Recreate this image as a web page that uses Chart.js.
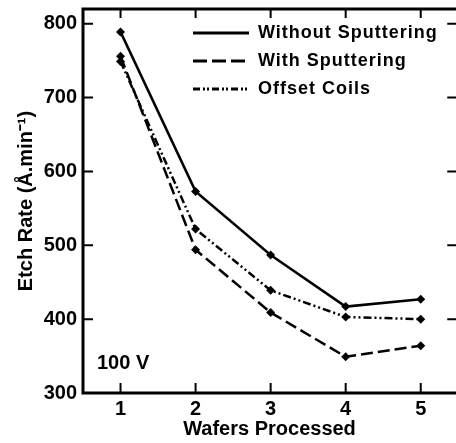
<!DOCTYPE html>
<html>
<head>
<meta charset="utf-8">
<script src="https://cdn.jsdelivr.net/npm/chart.js@4"></script>
<style>
  html, body { margin: 0; padding: 0; background: #fff; }
  #wrap { width: 456px; height: 443px; }
</style>
</head>
<body>
<div id="wrap"><canvas id="c" width="456" height="443"></canvas></div>
<script>
// ---- data ----
const categories = [1, 2, 3, 4, 5];
const withoutSputtering = [789, 573, 487, 417, 427];
const withSputtering = [756, 494, 409, 349, 364];
const offsetCoils = [749, 522, 439, 403, 400];
const seriesLabels = ['Without Sputtering', 'With Sputtering', 'Offset Coils'];
const xTicks = [1, 2, 3, 4, 5];
const yTicks = [300, 400, 500, 600, 700, 800];
const xTitle = 'Wafers Processed';
const yTitle = 'Etch Rate (Å.min⁻¹)';
const annotationText = '100 V';

// axis ranges: the frame's right edge (x = 5.5) lies just beyond the canvas
const xMin = 0.5, xMax = 5.47, xFrameRight = 5.5;
const yMin = 300, yMax = 820;

const FONT = '"Liberation Sans", Arial, sans-serif';
const dashes = [[], [12, 5], [8, 3, 2, 3, 2, 3]];
const legendDashes = [[], [14, 5], [7, 3, 2, 2, 2, 3]];

function pts(vals) { return categories.map((c, i) => ({ x: c, y: vals[i] })); }

function ds(label, vals, dash) {
  return {
    label: label,
    data: pts(vals),
    borderColor: '#000',
    backgroundColor: '#000',
    borderWidth: 2.5,
    borderDash: dash,
    pointStyle: 'rectRot',
    pointRadius: 4.5,
    pointHoverRadius: 4.5,
    pointBorderWidth: 0,
    pointBackgroundColor: '#000',
    tension: 0,
    fill: false,
    clip: false
  };
}

function zeroPad(s) { s.paddingTop = 0; s.paddingBottom = 0; s.paddingLeft = 0; s.paddingRight = 0; }

const framePlugin = {
  id: 'frame',
  afterDatasetsDraw(chart) {
    const { ctx, chartArea: a, scales } = chart;
    const x = scales.x, y = scales.y;
    const R = x.getPixelForValue(xFrameRight);
    ctx.save();
    ctx.strokeStyle = '#000';
    ctx.lineWidth = 2;
    ctx.setLineDash([]);
    ctx.beginPath();
    xTicks.forEach(v => {
      const px = x.getPixelForValue(v);
      ctx.moveTo(px, a.bottom); ctx.lineTo(px, a.bottom - 10);
      ctx.moveTo(px, a.top); ctx.lineTo(px, a.top + 9);
    });
    yTicks.forEach(v => {
      if (v === y.min) return;
      const py = y.getPixelForValue(v);
      ctx.moveTo(a.left, py); ctx.lineTo(a.left + 10, py);
      ctx.moveTo(R, py); ctx.lineTo(R - 11, py);
    });
    ctx.stroke();
    ctx.lineWidth = 3;
    ctx.strokeRect(a.left, a.top, R - a.left, a.bottom - a.top);

    // annotation
    ctx.fillStyle = '#000';
    ctx.font = 'bold 20px ' + FONT;
    ctx.textAlign = 'left';
    ctx.textBaseline = 'middle';
    ctx.fillText(annotationText, a.left + 14, 363);

    // legend
    ctx.font = 'bold 18px ' + FONT;
    try { ctx.letterSpacing = '1px'; } catch (e) {}
    chart.data.datasets.forEach((d, i) => {
      const ly = 33 + i * 28;
      ctx.lineWidth = 3;
      ctx.setLineDash(legendDashes[i]);
      ctx.beginPath();
      ctx.moveTo(193, ly); ctx.lineTo(249, ly);
      ctx.stroke();
      ctx.setLineDash([]);
      ctx.fillText(d.label, 258, ly);
    });
    ctx.restore();
  }
};

new Chart(document.getElementById('c'), {
  type: 'line',
  data: {
    datasets: [
      ds(seriesLabels[0], withoutSputtering, dashes[0]),
      ds(seriesLabels[1], withSputtering, dashes[1]),
      ds(seriesLabels[2], offsetCoils, dashes[2])
    ]
  },
  options: {
    responsive: false,
    animation: false,
    events: [],
    layout: { autoPadding: false, padding: { top: 9, right: 0, left: 0, bottom: 0 } },
    plugins: { legend: { display: false }, tooltip: { enabled: false } },
    scales: {
      x: {
        type: 'linear',
        min: xMin,
        max: xMax,
        afterBuildTicks(s) { s.ticks = xTicks.map(v => ({ value: v })); },
        afterFit(s) { s.height = 50; zeroPad(s); },
        grid: { display: false, drawTicks: false },
        border: { display: false },
        ticks: { color: '#000', font: { family: FONT, size: 20, weight: 'bold' }, padding: 4, maxRotation: 0 },
        title: { display: true, text: xTitle, color: '#000', font: { family: FONT, size: 20, weight: 'bold' }, padding: { top: 0, bottom: 2 } }
      },
      y: {
        min: yMin,
        max: yMax,
        afterBuildTicks(s) { s.ticks = yTicks.map(v => ({ value: v })); },
        afterFit(s) { s.width = 83; zeroPad(s); },
        grid: { display: false, drawTicks: false },
        border: { display: false },
        ticks: { color: '#000', font: { family: FONT, size: 20, weight: 'bold' }, padding: 6 },
        title: { display: true, text: yTitle, color: '#000', font: { family: FONT, size: 20, weight: 'bold' }, padding: { top: 14, bottom: 0 } }
      }
    }
  },
  plugins: [framePlugin]
});
</script>
</body>
</html>
